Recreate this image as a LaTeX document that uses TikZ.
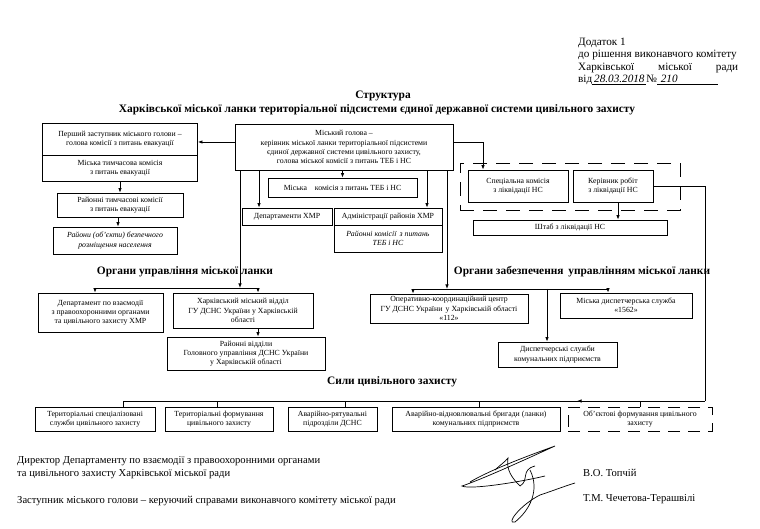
\documentclass[tikz,border=0pt]{standalone}
\usepackage{fontspec}
\setmainfont{Liberation Serif}
\usetikzlibrary{arrows.meta}
\begin{document}
\begin{tikzpicture}[x=1pt,y=-1pt,
  box/.style={draw, line width=0.8pt, inner sep=1pt, align=center, font=\fontsize{7.8}{9.2}\selectfont},
  ibox/.style={box, font=\fontsize{7.8}{9.2}\selectfont\itshape},
  arr/.style={line width=0.8pt, -{Latex[length=4.5pt,width=3.5pt]}},
  ln/.style={line width=0.8pt},
  lbl/.style={font=\fontsize{11.4}{13}\selectfont\bfseries, inner sep=0},
  txt/.style={font=\fontsize{10.6}{12.5}\selectfont, inner sep=0, align=left},
]
\useasboundingbox (0,0) rectangle (760,529);

% header
\node[txt, anchor=north west, font=\fontsize{11.2}{12.4}\selectfont] (hdr) at (578,38) {Додаток 1\\до рішення виконавчого комітету\\\makebox[160pt][s]{Харківської\hfill міської\hfill ради}\\від\underline{\textit{\,28.03.2018\,}}№\underline{\textit{\,\,210\hspace{40pt}}}};

% title
\node[lbl] (t1) at (383,96) {Структура};
\node[lbl] (t2) at (377,110) {Харківської міської ланки територіальної підсистеми єдиної державної системи цивільного захисту};

% main
\node[box, minimum width=218pt, minimum height=46pt] (main) at (344,147) {Міський голова –\\керівник міської ланки територіальної підсистеми\\єдиної державної системи цивільного захисту,\\голова міської комісії з питань ТЕБ і НС};

% left column
\node[box, minimum width=155pt, minimum height=32pt] (first) at (120,139) {Перший заступник міського голови –\\голова комісії з питань евакуації};
\node[box, minimum width=155pt, minimum height=26pt] (first2) at (120,168) {Міська тимчасова комісія\\з питань евакуації};
\node[box, minimum width=126pt, minimum height=24pt] (revac) at (120,205) {Районні тимчасові комісії\\з питань евакуації};
\node[ibox, minimum width=124pt, minimum height=27pt] (rozm) at (115,240.5) {Райони (об’єкти) безпечного\\розміщення населення};

% centre column
\node[box, minimum width=149pt, minimum height=19pt] (mkom) at (342.5,187.5) {Міська\quad комісія з питань ТЕБ і НС};
\node[box, minimum width=90pt, minimum height=17pt] (dept) at (287,216.5) {Департаменти ХМР};
\node[box, minimum width=108pt, minimum height=17pt] (adm) at (388,216.5) {Адміністрації районів ХМР};
\node[ibox, minimum width=108pt, minimum height=27pt] (raikom) at (388,238.5) {Районні комісії\, з питань\\ТЕБ і НС};

% right group
\node[draw, line width=0.8pt, dash pattern=on 14pt off 9pt, minimum width=220pt, minimum height=47pt, inner sep=0] (grp) at (570,186.5) {};
\node[box, minimum width=100pt, minimum height=32pt] (spec) at (518,186) {Спеціальна комісія\\з ліквідації НС};
\node[box, minimum width=80pt, minimum height=32pt] (ker) at (613,186) {Керівник робіт\\з ліквідації НС};
\node[box, minimum width=194pt, minimum height=15pt] (shtab) at (570,227.5) {Штаб з ліквідації НС};

% section labels
\node[lbl] (lu) at (185,272) {Органи управління міської ланки};
\node[lbl] (lz) at (582,272) {Органи забезпечення\, управлінням міської ланки};
\node[lbl] (ls) at (392,382) {Сили цивільного захисту};

% management bodies
\node[box, minimum width=125pt, minimum height=39pt] (depvz) at (100.5,312.5) {Департамент по взаємодії\\з правоохоронними органами\\та цивільного захисту ХМР};
\node[box, minimum width=140pt, minimum height=35pt] (khvid) at (243,310.5) {Харківський міський відділ\\ГУ ДСНС України у Харківській\\області};
\node[box, minimum width=158pt, minimum height=33pt] (raivid) at (246,353.5) {Районні відділи\\Головного управління ДСНС України\\у Харківській області};

% support bodies
\node[box, minimum width=158pt, minimum height=29pt] (opc) at (449,308.5) {Оперативно-координаційний центр\\ГУ ДСНС України\, у Харківській області\\«112»};
\node[box, minimum width=132pt, minimum height=25pt] (d1562) at (626,305.5) {Міська диспетчерська служба\\«1562»};
\node[box, minimum width=119pt, minimum height=25pt] (disp) at (557.5,354.5) {Диспетчерські служби\\комунальних підприємств};

% forces
\node[box, minimum width=120pt, minimum height=24pt] (s1) at (95,419) {Територіальні спеціалізовані\\служби цивільного захисту};
\node[box, minimum width=108pt, minimum height=24pt] (s2) at (219,419) {Територіальні формування\\цивільного захисту};
\node[box, minimum width=89pt, minimum height=24pt] (s3) at (332.5,419) {Аварійно-рятувальні\\підрозділи ДСНС};
\node[box, minimum width=168pt, minimum height=24pt] (s4) at (476,419) {Аварійно-відновлювальні бригади (ланки)\\комунальних підприємств};
\node[box, dash pattern=on 12pt off 8pt, minimum width=144pt, minimum height=24pt] (s5) at (640,419) {Об’єктові формування цивільного\\захисту};

% connectors
\coordinate (mE) at ([yshift=5pt]main.east);
\coordinate (mW) at ([yshift=5pt]main.west);
\draw[arr] (mW) -- (mW -| first.east);
\draw[arr] (first2.south) -- (revac.north);
\coordinate (rA) at ([xshift=-2pt]revac.south);
\draw[arr] (rA) -- (rA |- rozm.north);

\draw[arr] (mkom.north |- main.south) -- (mkom.north);
\coordinate (dA) at ([xshift=-28pt]dept.north);
\draw[arr] (dA |- main.south) -- (dA);
\coordinate (aA) at ([xshift=39pt]adm.north);
\draw[arr] (aA |- main.south) -- (aA);

\coordinate (sA) at ([xshift=-35pt]spec.north);
\draw[arr] (mE) -| (sA);
\coordinate (kA) at ([xshift=5pt]ker.south);
\draw[arr] (kA) -- (kA |- shtab.north);

% bus: management
\coordinate (busL) at (240,288);
\coordinate (bL1) at (95,288);
\coordinate (bL2) at (258,288);
\draw[arr] (busL |- main.south) -- (busL);
\draw[ln] (bL1) -- (bL2);
\draw[arr] (bL1) -- (bL1 |- depvz.north);
\draw[arr] (bL2) -- (bL2 |- khvid.north);
\draw[arr] (bL2 |- khvid.south) -- (bL2 |- raivid.north);

% bus: support
\coordinate (busR) at (447,289);
\coordinate (bR1) at (413,289);
\coordinate (bR2) at (608,289);
\coordinate (bR3) at (547,289);
\draw[arr] (busR |- main.south) -- (busR);
\draw[ln] (bR1) -- (bR2);
\draw[arr] (bR1) -- (bR1 |- opc.north);
\draw[arr] (bR2) -- (bR2 |- d1562.north);
\draw[arr] (bR3) -- (bR3 |- disp.north);

% bus: forces
\coordinate (rC) at (705,401);
\coordinate (rT) at (577,401);
\coordinate (sb1) at (123,401);
\coordinate (sb2) at (217,401);
\coordinate (sb3) at (345,401);
\coordinate (sb4) at (479,401);
\coordinate (sb5) at (640,401);
\draw[ln] (ker.east) -| (rC);
\draw[ln] (sb1) -- (rC);
\draw[arr] (rC) -- (rT);
\foreach \i in {1,...,5} \draw[ln] (sb\i) -- (sb\i |- s\i.north);

% footer
\node[txt, anchor=base west] (f1) at (17,463) {Директор Департаменту по взаємодії з правоохоронними органами};
\node[txt, anchor=base west] (f2) at (17,476) {та цивільного захисту Харківської міської ради};
\node[txt, anchor=base west] (f3) at (17,503) {Заступник міського голови – керуючий справами виконавчого комітету міської ради};
\node[txt, anchor=base west] (n1) at (583,476) {В.О. Топчій};
\node[txt, anchor=base west] (n2) at (583,501) {Т.М. Чечетова-Терашвілі};

% signature
\draw[line width=0.7pt] (470,482) .. controls (490,470) and (530,455) .. (555,446)
  .. controls (520,462) and (480,480) .. (462,486) .. controls (470,490) and (520,482) .. (545,476);
\draw[line width=0.7pt] (495,470) .. controls (500,465) and (505,462) .. (508,458)
  .. controls (506,470) and (512,478) .. (520,486) .. controls (530,480) and (520,470) .. (535,466);
\draw[line width=0.7pt] (530,470) .. controls (540,490) and (530,510) .. (515,522)
  .. controls (505,525) and (520,505) .. (540,495) .. controls (555,490) and (565,486) .. (575,483);
\end{tikzpicture}
\end{document}
